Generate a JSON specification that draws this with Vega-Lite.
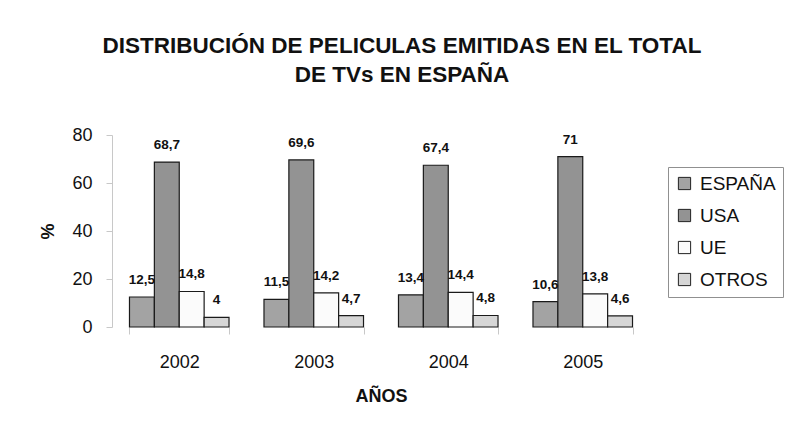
{
  "$schema": "https://vega.github.io/schema/vega-lite/v6.json",
  "width": 538,
  "height": 192,
  "autosize": "none",
  "padding": {"left": 112, "top": 135, "right": 138, "bottom": 109},
  "background": "white",
  "config": {
    "font": "Liberation Sans",
    "view": {"stroke": null},
    "locale": {"number": {"decimal": ",", "thousands": ".", "grouping": [3], "currency": ["", " €"]}}
  },
  "title": {
    "text": ["DISTRIBUCIÓN DE PELICULAS EMITIDAS EN EL TOTAL", "DE TVs EN ESPAÑA"],
    "font": "Liberation Sans",
    "fontSize": 22.5,
    "fontWeight": "bold",
    "color": "#111",
    "lineHeight": 29,
    "anchor": "middle",
    "dx": 21,
    "offset": 40
  },
  "data": {
    "values": [
      {"year": "2002", "pais": "ESPAÑA", "v": 12.5},
      {"year": "2002", "pais": "USA", "v": 68.7},
      {"year": "2002", "pais": "UE", "v": 14.8},
      {"year": "2002", "pais": "OTROS", "v": 4},
      {"year": "2003", "pais": "ESPAÑA", "v": 11.5},
      {"year": "2003", "pais": "USA", "v": 69.6},
      {"year": "2003", "pais": "UE", "v": 14.2},
      {"year": "2003", "pais": "OTROS", "v": 4.7},
      {"year": "2004", "pais": "ESPAÑA", "v": 13.4},
      {"year": "2004", "pais": "USA", "v": 67.4},
      {"year": "2004", "pais": "UE", "v": 14.4},
      {"year": "2004", "pais": "OTROS", "v": 4.8},
      {"year": "2005", "pais": "ESPAÑA", "v": 10.6},
      {"year": "2005", "pais": "USA", "v": 71},
      {"year": "2005", "pais": "UE", "v": 13.8},
      {"year": "2005", "pais": "OTROS", "v": 4.6}
    ]
  },
  "encoding": {
    "x": {
      "field": "year",
      "type": "nominal",
      "scale": {"paddingInner": 0.26, "paddingOuter": 0.13},
      "axis": {
        "title": "AÑOS",
        "titleFontSize": 18,
        "titleFontWeight": "bold",
        "titleColor": "#111",
        "titlePadding": 16,
        "labelAngle": 0,
        "labelFontSize": 18,
        "labelColor": "#111",
        "labelPadding": 19,
        "domain": false,
        "ticks": true,
        "tickBand": "extent",
        "tickColor": "#c8c8c8",
        "tickSize": 7
      }
    },
    "xOffset": {
      "field": "pais",
      "type": "nominal",
      "sort": ["ESPAÑA", "USA", "UE", "OTROS"],
      "scale": {"paddingInner": 0, "paddingOuter": 0}
    },
    "y": {
      "field": "v",
      "type": "quantitative",
      "scale": {"domain": [0, 80]},
      "axis": {
        "title": "%",
        "titleFontSize": 18,
        "titleFontWeight": "bold",
        "titleColor": "#111",
        "titlePadding": 14,
        "values": [0, 20, 40, 60, 80],
        "labelFontSize": 18,
        "labelColor": "#111",
        "labelPadding": 14,
        "grid": false,
        "domainColor": "#c8c8c8",
        "tickColor": "#c8c8c8",
        "tickSize": 6
      }
    }
  },
  "layer": [
    {
      "mark": {"type": "bar", "stroke": "#1a1a1a", "strokeWidth": 1.2},
      "encoding": {
        "color": {
          "field": "pais",
          "type": "nominal",
          "sort": ["ESPAÑA", "USA", "UE", "OTROS"],
          "scale": {"domain": ["ESPAÑA", "USA", "UE", "OTROS"], "range": ["#a3a3a3", "#939393", "#fbfbfb", "#d6d6d6"]},
          "legend": {
            "title": null,
            "orient": "none",
            "legendX": 556,
            "legendY": 32,
            "padding": 7,
            "strokeColor": "#909090",
            "fillColor": "white",
            "symbolType": "square",
            "symbolSize": 150,
            "symbolStrokeColor": "#222",
            "symbolStrokeWidth": 1,
            "labelFontSize": 19,
            "labelColor": "#111",
            "labelOffset": 6,
            "rowPadding": 12
          }
        }
      }
    },
    {
      "mark": {"type": "text", "baseline": "bottom", "dy": -10, "fontSize": 13.5, "fontWeight": "bold", "color": "#111"},
      "encoding": {
        "text": {"field": "v", "type": "quantitative", "format": ".1~f"}
      }
    }
  ]
}
